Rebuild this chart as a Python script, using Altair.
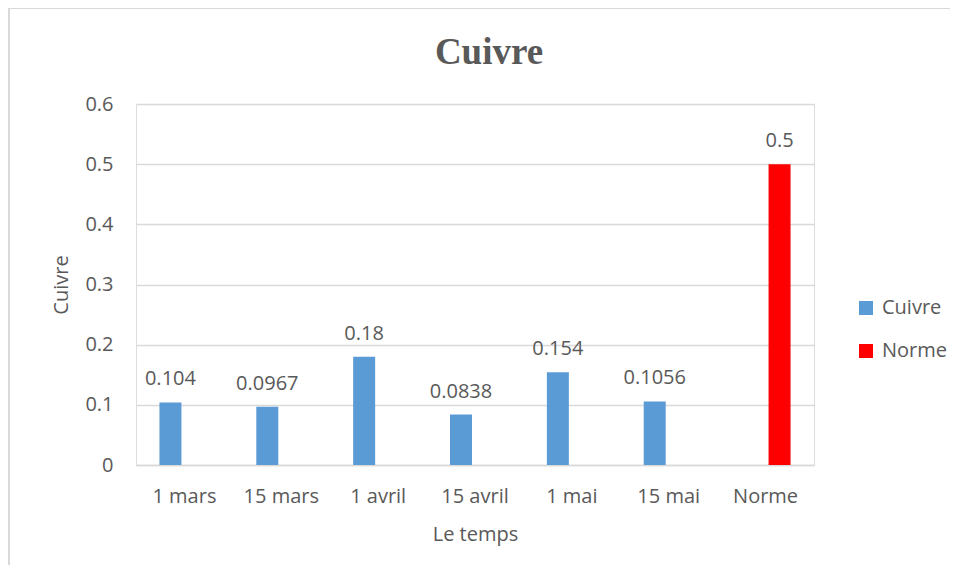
import altair as alt
import pandas as pd

categories = ["1 mars", "15 mars", "1 avril", "15 avril", "1 mai", "15 mai", "Norme"]
series = ["Cuivre", "Cuivre", "Cuivre", "Cuivre", "Cuivre", "Cuivre", "Norme"]
values = [0.104, 0.0967, 0.18, 0.0838, 0.154, 0.1056, 0.5]
value_labels = ["0.104", "0.0967", "0.18", "0.0838", "0.154", "0.1056", "0.5"]
series_names = ["Cuivre", "Norme"]
series_colors = ["#5B9BD5", "#FF0000"]
y_ticks = [0, 0.1, 0.2, 0.3, 0.4, 0.5, 0.6]

df = pd.DataFrame({"temps": categories, "serie": series, "valeur": values, "label": value_labels})

TXT = "#595959"
FONT = "Open Sans"
FS = 20

x_enc = alt.X("temps:N", sort=categories,
              scale=alt.Scale(paddingInner=0.484, paddingOuter=0.242),
              axis=alt.Axis(title="Le temps", labelAngle=0, labelFontSize=FS, titleFontSize=FS,
                            labelColor=TXT, titleColor=TXT, labelFont=FONT, titleFont=FONT,
                            ticks=False, domainColor="#D9D9D9", domainWidth=1.5,
                            labelPadding=21, titlePadding=18, grid=False, titleFontWeight="normal"))
xoff = alt.XOffset("serie:N", scale=alt.Scale(domain=series_names, paddingInner=0.214, paddingOuter=0))
y_enc = alt.Y("valeur:Q",
              scale=alt.Scale(domain=[0, 0.6], nice=False),
              axis=alt.Axis(title="Cuivre", values=y_ticks, format="~g", labelFontSize=FS, titleFontSize=FS,
                            labelColor=TXT, titleColor=TXT, labelFont=FONT, titleFont=FONT,
                            ticks=False, domain=False, gridColor="#D9D9D9", gridWidth=1.5,
                            labelPadding=23, titlePadding=13, titleFontWeight="normal"))

bars = alt.Chart(df).mark_bar().encode(
    x=x_enc, xOffset=xoff, y=y_enc,
    color=alt.Color("serie:N", scale=alt.Scale(domain=series_names, range=series_colors),
                    legend=alt.Legend(title=None, orient="none", legendX=720, legendY=194,
                                      symbolType="square", symbolSize=196, symbolStrokeWidth=0,
                                      labelFontSize=FS, labelColor=TXT, labelFont=FONT,
                                      rowPadding=23, padding=0, labelOffset=6)),
)

labels = alt.Chart(df).mark_text(fontSize=FS, font=FONT, color=TXT, baseline="alphabetic", dy=-17).encode(
    x=alt.X("temps:N", sort=categories), xOffset=alt.XOffset("serie:N"), y="valeur:Q", text="label:N"
)

frame_top = alt.Chart(df).mark_rule(color="#D9D9D9", strokeWidth=1.5, clip=False).encode(
    x=alt.value(-127), x2=alt.value(830), y=alt.value(-96)
)
frame_left = alt.Chart(df).mark_rule(color="#D9D9D9", strokeWidth=1.5, clip=False).encode(
    x=alt.value(-127), y=alt.value(-96), y2=alt.value(476)
)

chart = alt.layer(frame_top, frame_left, bars, labels).properties(
    width=678, height=361,
    title=alt.TitleParams("Cuivre", font="Liberation Serif", fontSize=37, fontWeight="bold",
                          color=TXT, anchor="middle", dx=14, offset=-94, baseline="alphabetic",
                          frame="group"),
    autosize=alt.AutoSizeParams(type="none"),
    padding={"left": 128, "top": 96, "right": 136, "bottom": 100},
).configure_view(stroke=None).configure(background="white")

chart.save("out.html", embed_options={"renderer": "svg", "actions": False})
